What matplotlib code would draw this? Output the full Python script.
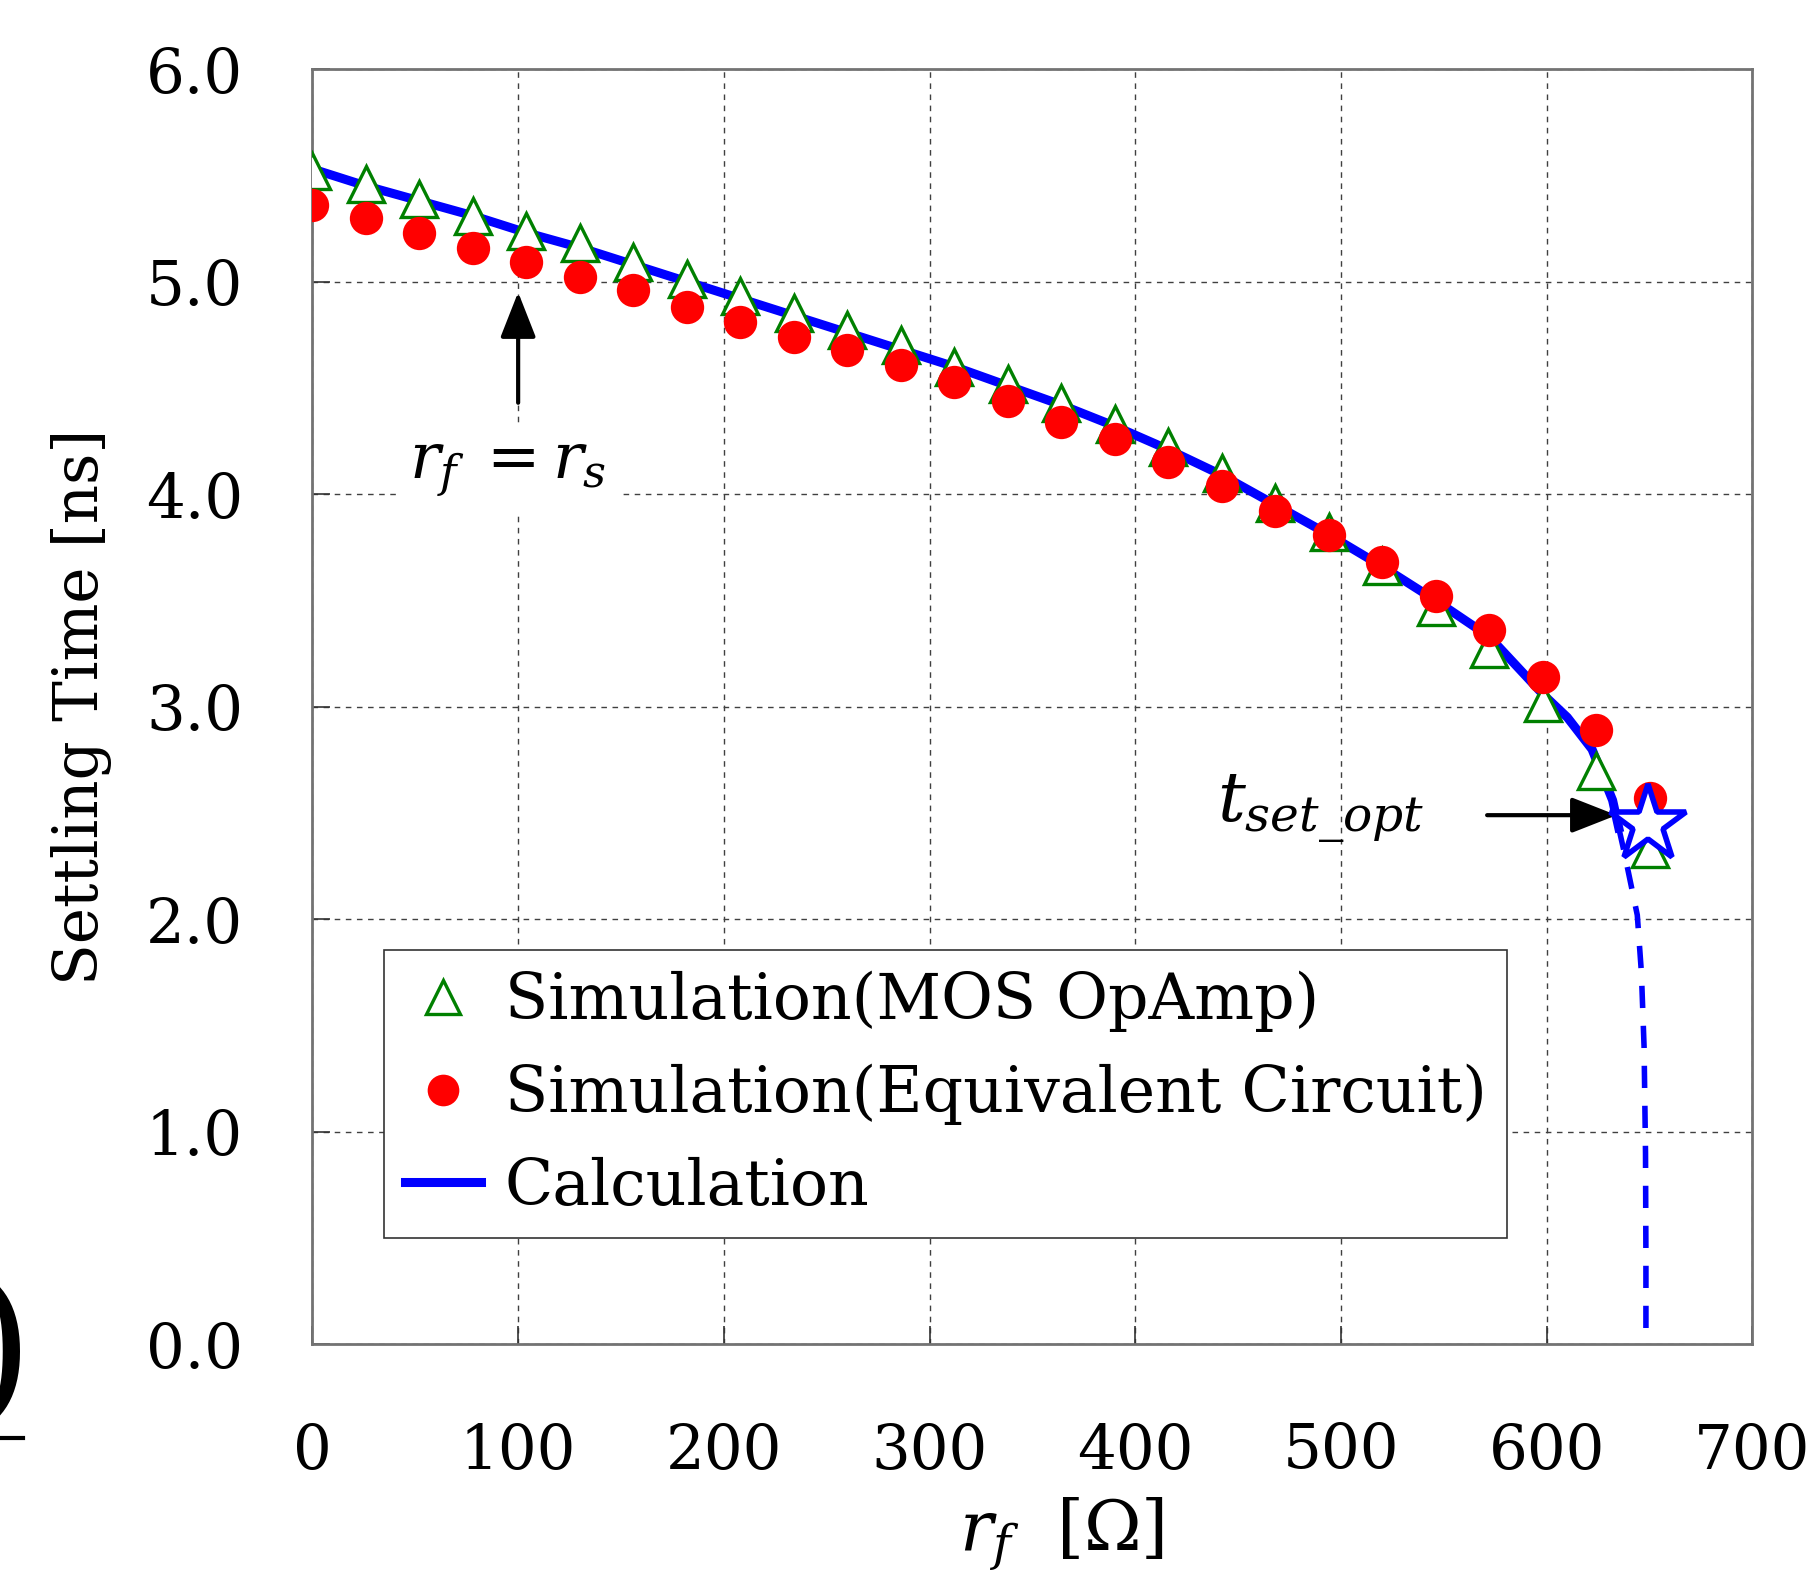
import matplotlib
matplotlib.use('Agg')
import matplotlib.pyplot as plt

plt.rcParams['font.family'] = ['DejaVu Serif']
plt.rcParams['mathtext.fontset'] = 'dejavuserif'

# feedback resistance r_f [ohm]
rf = [0, 26, 52, 78, 104, 130, 156, 182, 208, 234, 260, 286, 312,
      338, 364, 390, 416, 442, 468, 494, 520, 546, 572, 598, 624, 650]

# simulation, MOS opamp [ns]
t_mos = [5.52, 5.46, 5.39, 5.31, 5.24, 5.18, 5.09, 5.01, 4.93, 4.85, 4.77, 4.70, 4.60,
         4.52, 4.43, 4.33, 4.22, 4.10, 3.96, 3.82, 3.66, 3.47, 3.27, 3.02, 2.70, 2.33]

# simulation, equivalent circuit [ns]
t_eq = [5.36, 5.30, 5.23, 5.16, 5.09, 5.02, 4.96, 4.88, 4.81, 4.74, 4.68, 4.61, 4.53,
        4.44, 4.34, 4.26, 4.15, 4.04, 3.92, 3.81, 3.68, 3.52, 3.36, 3.14, 2.89, 2.57]

# calculation (solid part)
rf_calc = [0, 26, 52, 78, 104, 130, 156, 182, 208, 234, 260, 286, 312, 338, 364,
           390, 416, 442, 468, 494, 520, 546, 572, 598, 610, 622, 632, 635]
t_calc = [5.53, 5.45, 5.38, 5.31, 5.23, 5.16, 5.08, 5.00, 4.92, 4.84, 4.76, 4.68, 4.60, 4.51, 4.42,
          4.32, 4.21, 4.09, 3.95, 3.81, 3.66, 3.50, 3.33, 3.06, 2.95, 2.80, 2.56, 2.43]

# calculation (dashed part, beyond optimum)
rf_dash = [635, 638, 641, 644, 646, 647.3, 648.0, 648.2, 648.2]
t_dash = [2.43, 2.30, 2.16, 2.02, 1.75, 1.40, 0.90, 0.40, 0.04]

# optimum point
rf_opt = 649
t_opt = 2.45

fig = plt.figure(figsize=(18.08, 15.76), dpi=100)
ax = fig.add_axes([0.1728, 0.1469, 0.7965, 0.8093])

ax.plot(rf_calc, t_calc, color='blue', lw=6.5, zorder=3, label='Calculation')
ax.plot(rf_dash, t_dash, color='blue', lw=4, ls=(0, (4.0, 3.2)), zorder=3)
ax.plot(rf, t_mos, ls='none', marker='^', ms=26, mfc='white', mec='green', mew=2.4,
        zorder=4, label='Simulation(MOS OpAmp)')
ax.plot(rf, t_eq, ls='none', marker='o', ms=24, mfc='red', mec='red', mew=0,
        zorder=5, label='Simulation(Equivalent Circuit)')
ax.plot([rf_opt], [t_opt], ls='none', marker='*', ms=58, mfc='white', mec='blue', mew=4,
        zorder=6)

ax.set_xlim(0, 700)
ax.set_ylim(0, 6)
ax.set_xticks(range(0, 701, 100))
ax.set_yticks([0, 1, 2, 3, 4, 5, 6])
ax.set_yticklabels(['%.1f' % v for v in [0, 1, 2, 3, 4, 5, 6]])
ax.tick_params(direction='in', length=13, width=1.2, labelsize=44, color='0.2')
ax.tick_params(axis='y', pad=50)
ax.tick_params(axis='x', pad=55)
ax.grid(True, ls=(0, (4, 4)), color='0.25', lw=1.0)
for s in ax.spines.values():
    s.set_color('0.45')
    s.set_linewidth(2)

ax.set_ylabel('Settling Time [ns]', fontsize=44, labelpad=24)
ax.set_xlabel(r'$r_f$  [$\Omega$]', fontsize=50, labelpad=10)
ax.xaxis.label.set_x(0.52)

arrow_style = '-|>,head_length=1.4,head_width=0.55'
ax.annotate('', xy=(100, 4.95), xytext=(100, 4.43),
            arrowprops=dict(arrowstyle=arrow_style, mutation_scale=20, color='black',
                            lw=3, shrinkA=0, shrinkB=0))
ax.text(95, 4.12, r'$r_f\;=r_s$', fontsize=46, ha='center', va='center',
        bbox=dict(boxstyle='square,pad=0.2', fc='white', ec='none'))
ax.annotate('', xy=(634, 2.49), xytext=(571, 2.49),
            arrowprops=dict(arrowstyle=arrow_style, mutation_scale=20, color='black',
                            lw=3, shrinkA=0, shrinkB=0))
ax.text(490, 2.52, r'$t_{set\_opt}$', fontsize=50, ha='center', va='center')

leg = ax.legend(handles=[ax.lines[2], ax.lines[3], ax.lines[0]],
                loc='lower left', bbox_to_anchor=(0.0496, 0.0832), borderaxespad=0,
                fontsize=45.5, fancybox=False, framealpha=1, edgecolor='0.2',
                handlelength=1.2, handletextpad=0.38, labelspacing=0.5, borderpad=0.33,
                markerscale=0.95)
leg.get_frame().set_linewidth(1.2)
leg.set_zorder(7)

# fragment of neighbouring panel at the left edge
fig.text(-0.019, 0.14, ')', fontsize=125, ha='left', va='center')
fig.add_artist(plt.Line2D([0, 0.0127], [0.0876, 0.0876], color='black', lw=3,
                          transform=fig.transFigure))

fig.savefig('out.png', dpi=100)
